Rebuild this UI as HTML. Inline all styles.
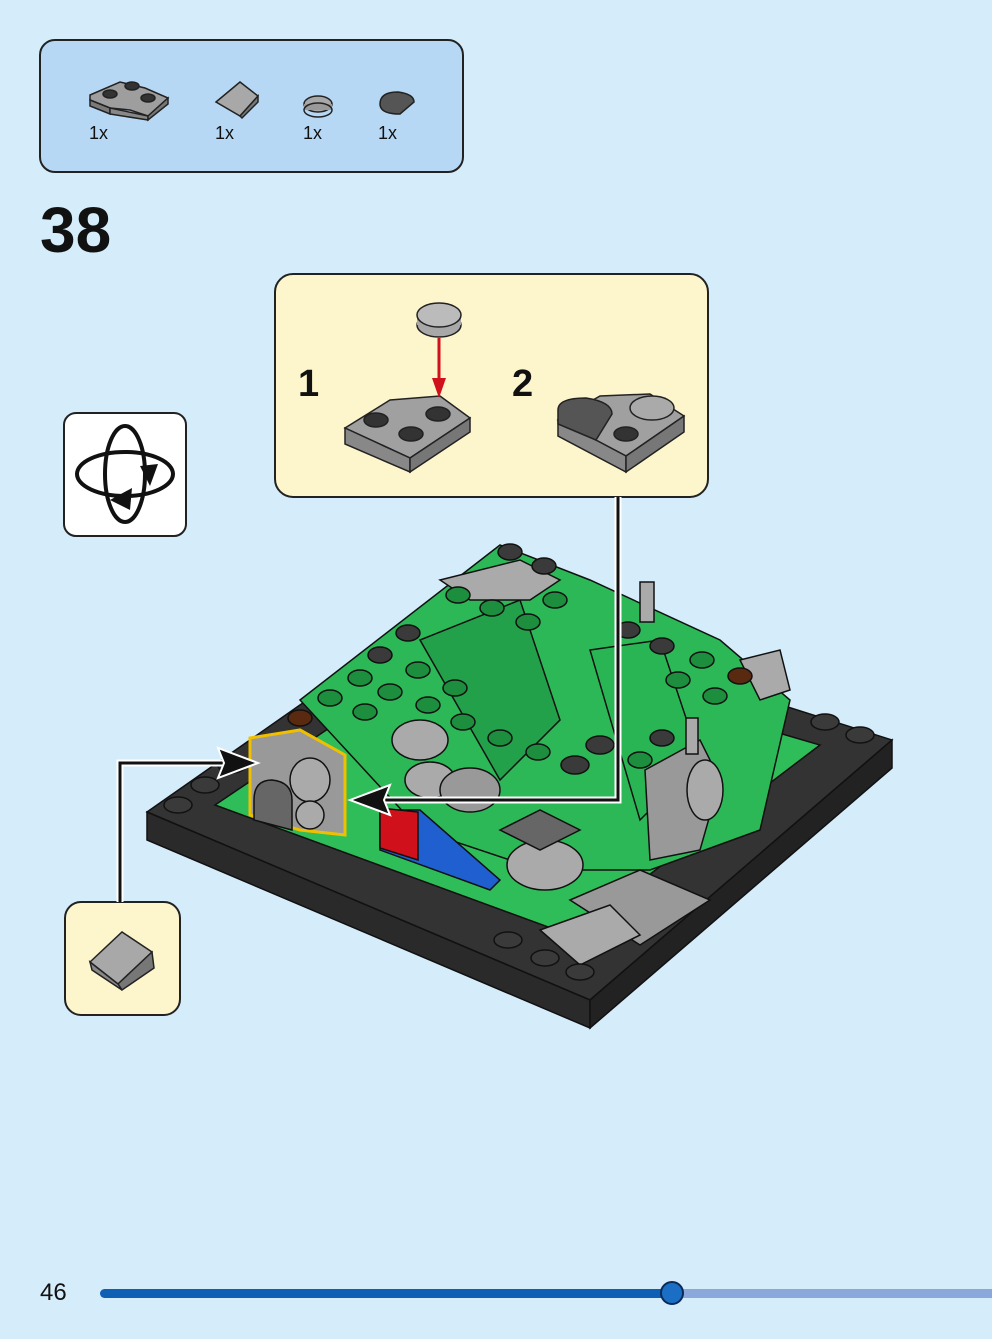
<!DOCTYPE html>
<html><head><meta charset="utf-8"><style>
body{margin:0;width:992px;height:1339px;background:#d5ecfa;font-family:"Liberation Sans",sans-serif;overflow:hidden;position:relative}
</style></head><body>
<svg width="992" height="1339" viewBox="0 0 992 1339" style="position:absolute;left:0;top:0" font-family="Liberation Sans, sans-serif">
<defs>
<marker id="ah" markerWidth="10" markerHeight="10" refX="9" refY="5" orient="auto" markerUnits="userSpaceOnUse"></marker>
</defs>
<!-- parts box -->
<rect x="40" y="40" width="423" height="132" rx="15" fill="#b7d8f4" stroke="#222" stroke-width="2"/>
<g stroke="#222" stroke-width="1.5">
<polygon points="90,95 120,82 145,88 168,98 148,116 130,110 110,108 90,100" fill="#9e9e9e"/>
<polygon points="90,100 110,108 110,114 90,106" fill="#7a7a7a"/>
<polygon points="110,108 148,116 148,120 110,114" fill="#888"/>
<polygon points="148,116 168,98 168,104 148,120" fill="#777"/>
<ellipse cx="110" cy="94" rx="7" ry="4" fill="#333"/><ellipse cx="132" cy="86" rx="7" ry="4" fill="#333"/><ellipse cx="148" cy="98" rx="7" ry="4" fill="#333"/>
<polygon points="216,102 240,82 258,96 240,116" fill="#a8a8a8"/>
<polygon points="240,116 258,96 258,102 242,118" fill="#777"/>
<ellipse cx="318" cy="104" rx="14" ry="8" fill="#a8a8a8"/><rect x="304" y="104" width="28" height="6" fill="#999" stroke="none"/><ellipse cx="318" cy="110" rx="14" ry="7" fill="none"/>
<path d="M380,104 Q380,92 398,92 Q414,94 414,102 L400,114 Q380,114 380,104Z" fill="#555"/>
</g>
<g font-size="18" fill="#111"><text x="89" y="139">1x</text><text x="215" y="139">1x</text><text x="303" y="139">1x</text><text x="378" y="139">1x</text></g>
<text x="40" y="252" font-size="64" font-weight="bold" fill="#111">38</text>
<!-- rotate icon -->
<rect x="64" y="413" width="122" height="123" rx="12" fill="#fff" stroke="#222" stroke-width="2"/>
<g fill="none" stroke="#111" stroke-width="4">
<ellipse cx="125" cy="474" rx="48" ry="22"/>
<ellipse cx="125" cy="474" rx="20" ry="48"/>
</g>
<polygon points="110,500 132,488 130,510" fill="#111"/>
<polygon points="140,466 150,486 158,464" fill="#111"/>
<!-- callout -->
<rect x="275" y="274" width="433" height="223" rx="18" fill="#fdf5cc" stroke="#222" stroke-width="2"/>
<text x="298" y="396" font-size="38" font-weight="bold" fill="#111">1</text>
<text x="512" y="396" font-size="38" font-weight="bold" fill="#111">2</text>
<g stroke="#222" stroke-width="1.5">
<ellipse cx="439" cy="325" rx="22" ry="12" fill="#a8a8a8"/><rect x="417" y="315" width="44" height="10" fill="#a8a8a8" stroke="none"/><ellipse cx="439" cy="315" rx="22" ry="12" fill="#bbb"/>
<polygon points="345,428 390,400 440,396 470,418 410,458" fill="#a0a0a0"/>
<polygon points="345,428 410,458 410,472 345,444" fill="#888"/>
<polygon points="410,458 470,418 470,432 410,472" fill="#777"/>
<ellipse cx="376" cy="420" rx="12" ry="7" fill="#333"/><ellipse cx="411" cy="434" rx="12" ry="7" fill="#333"/><ellipse cx="438" cy="414" rx="12" ry="7" fill="#333"/>
<polygon points="558,420 600,396 650,394 684,416 626,456" fill="#a0a0a0"/>
<polygon points="558,420 626,456 626,472 558,436" fill="#888"/>
<polygon points="626,456 684,416 684,432 626,472" fill="#777"/>
<path d="M558,410 Q558,398 586,398 Q612,402 612,414 L596,440 L558,424Z" fill="#555"/>
<ellipse cx="626" cy="434" rx="12" ry="7" fill="#333"/>
<ellipse cx="652" cy="408" rx="22" ry="12" fill="#aaa"/>
</g>
<line x1="439" y1="338" x2="439" y2="392" stroke="#d0101a" stroke-width="3"/>
<polygon points="432,378 446,378 439,398" fill="#d0101a"/>
<!-- small callout -->
<rect x="65" y="902" width="115" height="113" rx="16" fill="#fdf5cc" stroke="#222" stroke-width="2"/>
<g stroke="#222" stroke-width="1.5"><polygon points="90,962 122,932 152,952 118,984" fill="#a8a8a8"/><polygon points="118,984 152,952 154,968 122,990" fill="#777"/><polygon points="90,962 118,984 122,990 92,970" fill="#888"/></g>
<!-- model base -->
<g stroke="#111" stroke-width="1.5">
<polygon points="147,812 450,600 892,740 590,1000" fill="#333"/>
<polygon points="147,812 590,1000 590,1028 147,840" fill="#2a2a2a"/>
<polygon points="590,1000 892,740 892,768 590,1028" fill="#222"/>
<polygon points="215,805 460,640 820,745 570,935" fill="#2fbd59"/>
<polygon points="300,700 500,545 590,580 720,640 790,700 760,830 650,870 540,870 420,830" fill="#2db857"/>
<polygon points="420,640 520,600 560,720 500,780" fill="#23a04a"/>
<polygon points="590,650 660,640 700,760 640,820" fill="#2ab555"/>
<polygon points="380,810 420,810 500,880 490,890 380,850" fill="#1f5fd0"/>
<polygon points="380,808 418,812 418,860 380,848" fill="#d0101a"/>
<polygon points="250,738 300,730 345,755 345,835 300,830 250,815" fill="#999" stroke="#f0c000" stroke-width="3"/>
<ellipse cx="310" cy="780" rx="20" ry="22" fill="#aaa"/>
<path d="M254,800 Q254,780 272,780 Q292,782 292,800 L292,830 L254,820Z" fill="#666"/>
<ellipse cx="310" cy="815" rx="14" ry="14" fill="#aaa"/>
<ellipse cx="420" cy="740" rx="28" ry="20" fill="#aaa"/><ellipse cx="430" cy="780" rx="25" ry="18" fill="#aaa"/>
<ellipse cx="470" cy="790" rx="30" ry="22" fill="#999"/>
<ellipse cx="545" cy="865" rx="38" ry="25" fill="#aaa"/>
<polygon points="500,830 540,810 580,830 540,850" fill="#666"/>
<polygon points="570,900 640,870 710,900 640,945" fill="#999"/>
<polygon points="540,930 610,905 640,935 580,965" fill="#aaa"/>
<polygon points="645,770 700,740 720,780 700,850 650,860" fill="#999"/>
<ellipse cx="705" cy="790" rx="18" ry="30" fill="#aaa"/>
<polygon points="440,580 520,560 560,580 530,600 470,600" fill="#aaa"/>
<polygon points="740,660 780,650 790,690 760,700" fill="#aaa"/>
<ellipse cx="740" cy="676" rx="12" ry="8" fill="#5a2a10"/>
<ellipse cx="300" cy="718" rx="12" ry="8" fill="#5a2a10"/>
<rect x="640" y="582" width="14" height="40" fill="#aaa"/>
<rect x="686" y="718" width="12" height="36" fill="#aaa"/>
</g>
<g fill="#1c8e3e" stroke="#111" stroke-width="1.5">
<ellipse cx="458" cy="595" rx="12" ry="8"/><ellipse cx="492" cy="608" rx="12" ry="8"/><ellipse cx="528" cy="622" rx="12" ry="8"/><ellipse cx="555" cy="600" rx="12" ry="8"/>
<ellipse cx="330" cy="698" rx="12" ry="8"/><ellipse cx="360" cy="678" rx="12" ry="8"/><ellipse cx="390" cy="692" rx="12" ry="8"/><ellipse cx="418" cy="670" rx="12" ry="8"/>
<ellipse cx="365" cy="712" rx="12" ry="8"/><ellipse cx="428" cy="705" rx="12" ry="8"/><ellipse cx="455" cy="688" rx="12" ry="8"/><ellipse cx="463" cy="722" rx="12" ry="8"/>
<ellipse cx="500" cy="738" rx="12" ry="8"/><ellipse cx="538" cy="752" rx="12" ry="8"/><ellipse cx="640" cy="760" rx="12" ry="8"/>
<ellipse cx="678" cy="680" rx="12" ry="8"/><ellipse cx="702" cy="660" rx="12" ry="8"/><ellipse cx="715" cy="696" rx="12" ry="8"/>
</g>
<g fill="#3a3a3a" stroke="#111" stroke-width="1.5">
<ellipse cx="178" cy="805" rx="14" ry="8"/><ellipse cx="205" cy="785" rx="14" ry="8"/><ellipse cx="232" cy="765" rx="14" ry="8"/><ellipse cx="380" cy="655" rx="12" ry="8"/><ellipse cx="408" cy="633" rx="12" ry="8"/>
<ellipse cx="825" cy="722" rx="14" ry="8"/><ellipse cx="860" cy="735" rx="14" ry="8"/><ellipse cx="508" cy="940" rx="14" ry="8"/><ellipse cx="545" cy="958" rx="14" ry="8"/><ellipse cx="580" cy="972" rx="14" ry="8"/>
<ellipse cx="575" cy="765" rx="14" ry="9"/><ellipse cx="600" cy="745" rx="14" ry="9"/><ellipse cx="628" cy="630" rx="12" ry="8"/><ellipse cx="662" cy="646" rx="12" ry="8"/><ellipse cx="662" cy="738" rx="12" ry="8"/>
<ellipse cx="510" cy="552" rx="12" ry="8"/><ellipse cx="544" cy="566" rx="12" ry="8"/>
</g>
<!-- connector lines -->
<g fill="none" stroke="#fff" stroke-width="7"><path d="M618,497 V800 H372"/><path d="M120,902 V763 H230"/></g>
<g fill="none" stroke="#111" stroke-width="3"><path d="M618,497 V800 H372"/><path d="M120,902 V763 H230"/></g>
<polygon points="350,800 390,785 384,800 390,815" fill="#111" stroke="#fff" stroke-width="2"/>
<polygon points="258,763 218,748 224,763 218,778" fill="#111" stroke="#fff" stroke-width="2"/>
<!-- footer -->
<text x="40" y="1300" font-size="24" fill="#111">46</text>
<rect x="100" y="1289" width="572" height="9" rx="4.5" fill="#0f5fb5"/>
<rect x="672" y="1289" width="330" height="9" fill="#8aa8dc"/>
<circle cx="672" cy="1293" r="11" fill="#1a6fc4" stroke="#0a2a5a" stroke-width="2"/>
</svg>
</body></html>
